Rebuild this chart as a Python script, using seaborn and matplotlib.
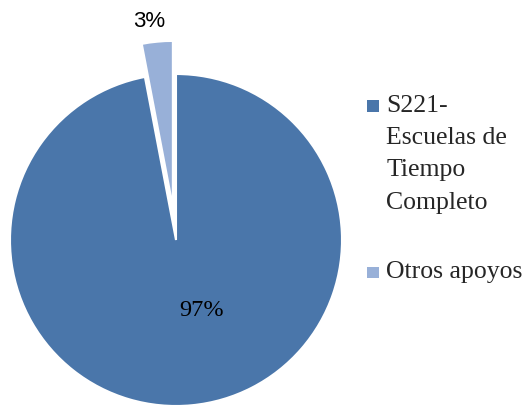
import matplotlib
matplotlib.use("Agg")
import matplotlib.pyplot as plt
import seaborn as sns
from matplotlib.patches import Rectangle, Wedge
from matplotlib.legend_handler import HandlerPatch

# Datos
categorias = ["S221-\nEscuelas de\nTiempo\nCompleto", "Otros apoyos"]
porcentajes = [97, 3]
colores = ["#4a76aa", "#98b0d8"]
separacion = [0, 0.2]

sns.set_theme(style="white")
plt.rcParams['font.family'] = ['Liberation Serif', 'DejaVu Serif']

fig = plt.figure(figsize=(5.31, 4.10), dpi=100)
ax = fig.add_axes([0, 0, 1, 1])

wedges, textos, pcts = ax.pie(
    porcentajes, colors=colores, explode=separacion,
    startangle=90, counterclock=False,
    autopct="%1.0f%%", pctdistance=0.4,
    wedgeprops=dict(edgecolor="white", linewidth=1.5),
    textprops=dict(fontsize=17.5, color="black"),
)

# posicion de las etiquetas como en el original
pcts[0].set_position((0.157, -0.42))
pcts[1].set_position((-0.163, 1.325))
pcts[1].set_fontfamily(["Liberation Sans", "DejaVu Sans"])
pcts[1].set_fontsize(16)

ax.set_xlim(-176 / 166, 355 / 166)
ax.set_ylim(-169 / 166, 241 / 166)


def cuadro(legend, orig_handle, xdescent, ydescent, width, height, fontsize):
    return Rectangle((-xdescent, -ydescent), width, width)


leg = ax.legend(
    wedges, categorias, loc="upper left",
    bbox_to_anchor=(367 / 531, 1 - 95 / 410), bbox_transform=fig.transFigure,
    frameon=False, fontsize=18.5, handlelength=0.45, handleheight=0.7,
    handletextpad=0.3, labelspacing=1.85, borderpad=0, borderaxespad=0,
    handler_map={Wedge: HandlerPatch(patch_func=cuadro)},
)
for h in leg.legend_handles:
    h.set_linewidth(0)
for t in leg.get_texts():
    t.set_linespacing(1.6)
for col in leg._legend_handle_box.get_children():
    for row in col.get_children():
        row.align = "top"

fig.savefig("out.png", dpi=100, facecolor="white")
